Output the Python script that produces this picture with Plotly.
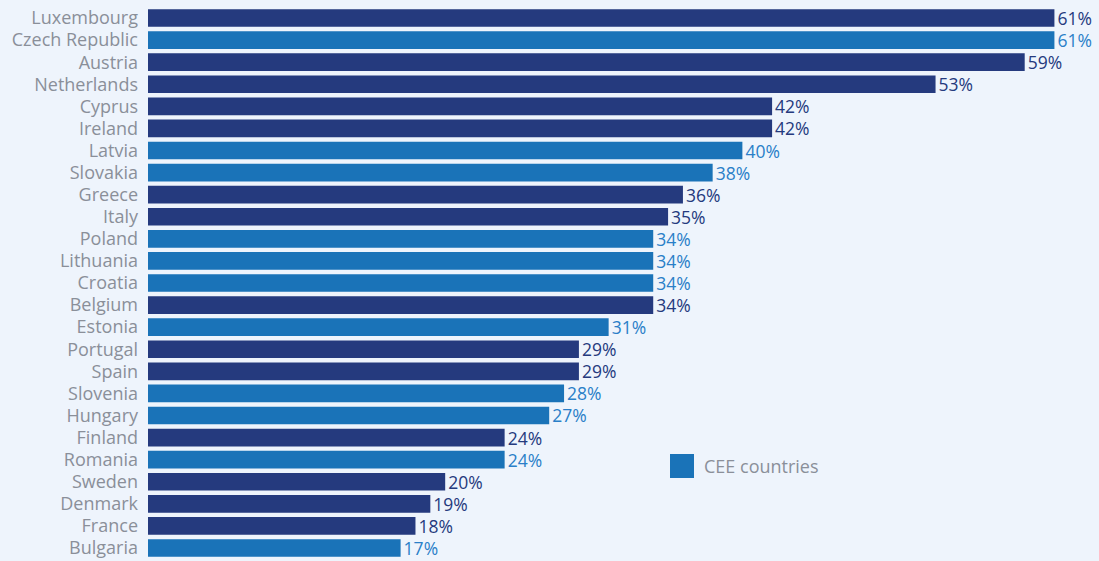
import plotly.graph_objects as go

countries = ["Luxembourg", "Czech Republic", "Austria", "Netherlands", "Cyprus", "Ireland",
             "Latvia", "Slovakia", "Greece", "Italy", "Poland", "Lithuania", "Croatia",
             "Belgium", "Estonia", "Portugal", "Spain", "Slovenia", "Hungary", "Finland",
             "Romania", "Sweden", "Denmark", "France", "Bulgaria"]
shares = [61, 61, 59, 53, 42, 42, 40, 38, 36, 35, 34, 34, 34, 34, 31, 29, 29, 28, 27, 24,
          24, 20, 19, 18, 17]
cee = {"Czech Republic", "Latvia", "Slovakia", "Poland", "Lithuania", "Croatia", "Estonia",
       "Slovenia", "Hungary", "Romania", "Bulgaria"}

NAVY = "#253a7e"
BLUE = "#1a73b8"
BLUE_TEXT = "#2a7fc8"
BG = "#eef4fc"
FONT = "Open Sans"

fig = go.Figure()
for is_cee in (False, True):
    ys = [c for c in countries if (c in cee) == is_cee]
    xs = [v for c, v in zip(countries, shares) if (c in cee) == is_cee]
    fig.add_trace(go.Bar(
        x=xs, y=ys, orientation="h",
        marker=dict(color=BLUE if is_cee else NAVY, line=dict(width=0)),
        text=[f"{v}%" for v in xs], textposition="outside", cliponaxis=False,
        constraintext="none",
        textfont=dict(family=FONT, size=17.5, color=BLUE_TEXT if is_cee else NAVY),
        showlegend=False, hoverinfo="skip",
    ))

# legend key for CEE countries
fig.add_shape(type="rect", xref="paper", yref="paper",
              x0=(670 - 148) / 951, x1=(694 - 148) / 951,
              y0=(559 - 478) / 552, y1=(559 - 454) / 552,
              fillcolor=BLUE, line=dict(width=0))
fig.add_annotation(xref="paper", yref="paper", x=(702 - 148) / 951, y=(559 - 466) / 552,
                   text="CEE countries", showarrow=False, xanchor="left", yanchor="middle",
                   font=dict(family=FONT, size=18, color="#8a8f99"))

fig.update_layout(
    width=1099, height=561,
    margin=dict(l=148, r=0, t=7, b=2),
    paper_bgcolor=BG, plot_bgcolor=BG,
    barmode="overlay", bargap=0.2,
    xaxis=dict(range=[0, 64], visible=False, showgrid=False, zeroline=False),
    yaxis=dict(categoryorder="array", categoryarray=countries, autorange="reversed",
               showgrid=False, zeroline=False, ticks="", ticklabelstandoff=9,
               tickfont=dict(family=FONT, size=18, color="#8a8f99")),
)

fig.write_html("out.html")
